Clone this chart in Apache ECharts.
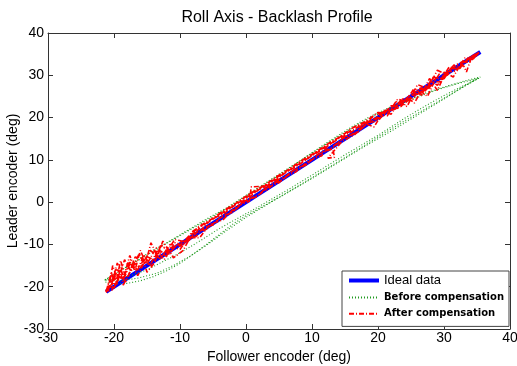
<!DOCTYPE html>
<html>
<head>
<meta charset="utf-8">
<script src="https://cdn.jsdelivr.net/npm/echarts@6/dist/echarts.min.js"></script>
<style>
  html, body { margin: 0; padding: 0; background: #fff; }
  #chart { width: 517px; height: 366px; }
</style>
</head>
<body>
<div id="chart"></div>
<script>
// axis ticks
const ticks = [-30, -20, -10, 0, 10, 20, 30, 40];

// ideal data: follower == leader
const ideal = [[-21.2, -21.2], [35.5, 35.5]];

// before compensation (green, hysteresis loops)
const before = [
  [-21.3,-18.9],[-20,-19.3],[-18,-19.2],[-16,-18.6],[-14,-17.6],[-12,-16.2],[-10,-14.5],[-8,-12.3],
  [-6,-10],[-4,-7.6],[-2,-5.2],[0,-3.2],[3,-0.6],[6,2],[10,5.6],[14,9.4],[18,13.2],[22,16.8],
  [26,20.6],[30,24.4],[33,27.4],[35.5,29.6],
  [33,28.6],[30,27.2],[27.5,26],[25,24.4],[22,22.6],[19,20.4],[16,17.8],[12,13.8],[8,9.6],
  [4,5.6],[0,1.6],[-3,-1.4],[-6,-4],[-9,-6.8],[-12,-9.6],[-14,-11.3],[-16,-13.2],[-18,-15.2],
  [-20,-17.2],[-21.5,-18.5],
  [-19.5,-18.2],[-17.5,-17.4],[-15,-16],[-12.5,-14],[-10,-12],[-7,-9.2],[-4,-6.2],[-1,-3.6],
  [2,-1],[6,2.6],[10,6.4],[15,11.2],[20,15.8],[24,19.8],[27,22.6],[30,25.2],[33,27.6],[35.3,29.3],
  [32,28],[29,26.6],[26,24.8],[23,23],[20,20.8],[17,18.4],[13,14.6],[9,10.6],[5,6.4],[1,2.4],
  [-3,-1.6],[-7,-5.2],[-11,-8.8],[-14,-11.6],[-17,-14.4],[-19.5,-16.6],[-21.3,-18.3],
  [-19,-18.6],[-16.5,-18],[-13.5,-16.8],[-11,-15],[-8.5,-12.8],[-6,-10.2],[-3,-6.8],[0,-3.6],
  [4,0.2],[8,3.9],[12,7.7],[16,11.5],[20,15.4],[24,19.2],[28,22.8],[32,26.4],[35.5,29.5]
];

// after compensation (red, noisy around the ideal line)
const after = [
  [-21.2,-21],[-20.5,-19.8],[-20,-17],[-19.6,-19.5],[-19,-15.5],[-18.5,-18.2],[-17.5,-14.2],
  [-16.5,-16.4],[-15.5,-12.5],[-14.5,-14.8],[-13.5,-11.6],[-12,-12.8],[-10.5,-10.2],[-9,-9.6],
  [-7.5,-7.2],[-6,-6.4],[-4,-3.8],[-2,-2.3],[0,0.4],[1.5,1.2],[3,3.3],[5,4.6],[7,7.4],[9,8.7],
  [11,11.3],[13,12.6],[15,15.5],[17,16.6],[19,19.6],[20.5,20],[22,22.8],[23.5,22.6],[25,25.8],
  [26.5,25.4],[28,28.6],[29.5,28.4],[31,31.6],[32.5,32],[34,34.3],[35.2,35.3],
  [33.5,33.8],[32,32.6],[30.5,30],[29,31.2],[27.5,26.8],[26,27.8],[24.5,23.6],[23,24.4],
  [21.5,21],[20,21.2],[18,19],[16,17.4],[14,15.2],[12,13.4],[10,11.2],[8,9.4],[6,7.2],[4,5.2],
  [2,3.2],[0,1.4],[-2,-0.8],[-4,-2.8],[-6,-4.8],[-8,-6.8],[-10,-10.4],[-11.5,-10],[-13,-13.4],
  [-14.5,-11.4],[-16,-15.6],[-17.5,-13.6],[-18.5,-17.8],[-19.5,-14.4],[-20.5,-20.2],[-21.2,-21.3],
  [-20.3,-20.8],[-19.8,-16],[-19,-16.2],[-18.6,-19.6],[-17.8,-17.2],[-16.8,-13],[-15.6,-13.4],
  [-15,-16.6],[-13.8,-14.2],[-13,-10.4],[-11.8,-11],[-11,-13.2],[-9.5,-11.4],[-8.5,-8.4],[-7,-8.4],
  [-5.5,-5.2],[-3.5,-4.2],[-1.5,-1],[0.5,0.2],[0.8,3.6],[2.8,3.8],[3,2.6],[5,5.4],[7.5,7.1],
  [9.5,9.8],[11.5,11],[11.8,12.6],[13.2,12.4],[13.4,10.6],[12.4,10.4],[14.5,14.3],[16.5,16],
  [18.5,18.8],[20,19.2],[21.5,22],[23,22.2],[24.5,24.8],[25.5,23.4],[26.5,26.2],[27.5,25],
  [28.5,28.4],[29.5,30.8],[30.5,30.6],[31.5,32.4],[33,32.2],[33.4,30.8],[34.2,34.4],[35.3,35.4],
  [34,33.2],[32.8,33],[31.8,31],[30.2,30.8],[29,27.6],[27.8,29.2],[26.6,25.6],[25.4,26.8],
  [24,22.8],[22.8,23.8],[21.4,20.4],[19.8,21],[18.2,18.8],[16.4,17.8],[14.6,15.8],[12.8,14.2],
  [10.8,12],[8.8,10.2],[6.8,8],[4.8,6.2],[2.8,4],[0.8,2.2],[-1.2,0],[-3.2,-1.8],
  [-5.2,-4],[-7.2,-5.8],[-9.2,-9.4],[-10.8,-8.8],[-12.2,-12.4],[-13.6,-10.8],[-15,-14.6],
  [-16.2,-12.2],[-17.4,-16.4],[-18.4,-13.6],[-19.4,-18.6],[-20.2,-15],[-20.8,-20.4],[-21.3,-21.4],
  [-20.6,-18.4],[-20,-20.4],[-19.2,-17.4],[-18.2,-18.8],[-17.2,-15.2],[-16.4,-17.4],[-15.4,-14.2],
  [-14.2,-15],[-13.2,-12.2],[-12.4,-13.6],[-11.2,-10.6],[-10,-11.2],[-8.8,-8.4],[-7.6,-8.2],
  [-6.4,-6],[-5,-5.4],[-3.6,-3.2],[-2.2,-2.6],[-0.8,-0.4],[0.6,0.8],[2.2,2],[3.8,4.2],[5.6,5.4],
  [7.4,7.8],[9.2,9],[11,11.4],[12.8,12.6],[14.6,15],[16.4,16.2],[18.2,18.6],[19.8,19.6],
  [21.2,21.8],[22.6,22],[24,24.6],[25.2,24.2],[26.4,27],[27.6,26.6],[28.8,29.4],[30,29.2],
  [31.2,31.8],[32.4,31.6],[33.6,34],[35.4,35.5],
  [34.4,33.8],[33.2,34.2],[32,31.4],[30.8,32],[29.6,29],[28.4,29.6],[27.2,26.4],[26,26.8],
  [24.8,24.2],[23.6,24.4],[22.4,21.8],[21,21.6],[19.6,19.8],[18,18.8],[16.4,17.2],[14.8,16],
  [13,14],[11.2,12.4],[9.4,10.4],[7.6,8.6],[5.8,6.8],[4,5],[2.2,3.2],[0.4,1.4],[-1.4,-0.4],
  [-3.2,-2.2],[-5,-4],[-6.8,-5.8],[-8.6,-8.8],[-10.2,-9.6],[-11.6,-12],[-12.8,-10.2],
  [-14,-13.6],[-15.2,-12.8],[-16.4,-16],[-17.6,-14.6],[-18.8,-18.2],[-19.6,-16.8],[-20.6,-20],
  [-21.2,-21.2],
  [-20.4,-16.6],[-19.8,-19.8],[-19,-13.8],[-18.4,-17],[-17.6,-12.6],[-16.8,-16],[-16,-11.4],
  [-15.2,-14.4],[-14.4,-9.6],[-13.4,-12.8],[-12.6,-9.2],[-11.6,-11.8],[-10.8,-9.6],[-9.6,-10.4],
  [-8.4,-7.6],[-6.8,-6.6],[-5.2,-4],[-3.4,-2.8],[-1.6,-0.6],[0.2,0.8],[2,3],[4,4.6],
  [6,7],[8,8.8],[10,11],[12,12.8],[14,15],[16,16.6],[18,18.6],[19.4,17.8],[20.8,21.4],
  [22,20.8],[23.2,23.8],[24.4,22.6],[25.6,26.4],[26.8,25.2],[28,28.8],[29,26.4],[30.2,30.6],
  [31.4,29.6],[32.6,32.8],[34,33.6],[35.3,35.3]
];

const axisColor = '#333';
const font = 'Arial, "Liberation Sans", sans-serif';
const boldFont = '"DejaVu Sans"';

function axis(pos, show, name) {
  return {
    type: 'value',
    position: pos,
    min: ticks[0],
    max: ticks[ticks.length - 1],
    interval: 10,
    name: name,
    nameLocation: 'middle',
    nameGap: pos === 'bottom' ? 21 : 28,
    nameMoveOverlap: false,
    nameTextStyle: {color: '#000', fontSize: 14, fontFamily: font},
    axisLine: {show: true, onZero: false, lineStyle: {color: axisColor, width: 1}},
    axisTick: {show: true, inside: true, length: 5, lineStyle: {color: axisColor}},
    axisLabel: {
      show: show,
      color: '#000',
      fontSize: 14,
      fontFamily: font,
      margin: pos === 'bottom' ? 2 : 4
    },
    splitLine: {show: false}
  };
}

const legendText = (size, weight, family) => ({fontSize: size, fontWeight: weight, fontFamily: family, color: '#000'});

const myChart = echarts.init(document.getElementById('chart'));
myChart.setOption({
  animation: false,
  backgroundColor: '#fff',
  title: {
    text: 'Roll Axis - Backlash Profile',
    left: 272,
    top: 5,
    textAlign: 'center',
    textStyle: {color: '#000', fontSize: 16, fontWeight: 'normal', fontFamily: font}
  },
  grid: {left: 48, right: 7, top: 33, bottom: 37, containLabel: false, outerBoundsMode: 'none'},
  xAxis: [axis('bottom', true, 'Follower encoder (deg)'), axis('top', false)],
  yAxis: [axis('left', true, 'Leader encoder (deg)'), axis('right', false)],
  legend: {
    orient: 'vertical',
    left: 342,
    top: 271,
    padding: [3, 5, 7, 5],
    itemGap: 5,
    itemWidth: 30,
    itemHeight: 14,
    backgroundColor: '#fff',
    borderColor: '#444',
    borderWidth: 1,
    borderRadius: 0,
    itemStyle: {opacity: 0},
    data: [
      {name: 'Ideal data', textStyle: legendText(13, 'normal', font), lineStyle: {width: 4}},
      {name: 'Before compensation', textStyle: legendText(10, 'bold', boldFont)},
      {name: 'After compensation', textStyle: legendText(10, 'bold', boldFont)}
    ]
  },
  series: [
    {
      name: 'Ideal data',
      type: 'line',
      data: ideal,
      symbol: 'none',
      lineStyle: {color: '#0000ff', width: 4},
      itemStyle: {color: '#0000ff'}
    },
    {
      name: 'Before compensation',
      type: 'line',
      data: before,
      symbol: 'none',
      lineStyle: {color: '#1f9a1f', width: 1.1, type: [1, 2]},
      itemStyle: {color: '#1f9a1f'}
    },
    {
      name: 'After compensation',
      type: 'line',
      data: after,
      symbol: 'none',
      lineStyle: {color: '#ff0000', width: 1.6, type: [5, 2, 1, 2]},
      itemStyle: {color: '#ff0000'}
    }
  ]
});
</script>
</body>
</html>
